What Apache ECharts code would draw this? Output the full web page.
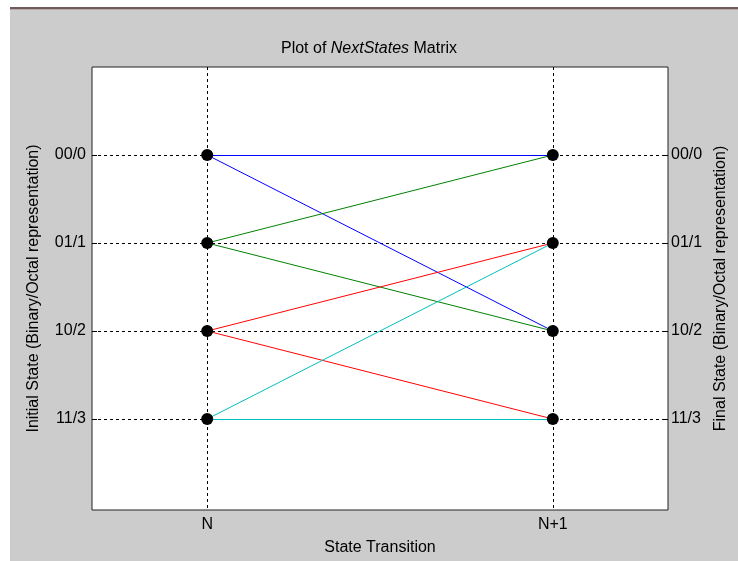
<!DOCTYPE html>
<html>
<head>
<meta charset="utf-8">
<script src="https://cdn.jsdelivr.net/npm/echarts@6/dist/echarts.min.js"></script>
<style>
  html, body { margin: 0; padding: 0; background: #fff; }
  #chart { width: 738px; height: 561px; }
</style>
</head>
<body>
<div id="chart"></div>
<script>
// State encodings (binary/octal) and the two transition steps
const stateLabels = ['00/0', '01/1', '10/2', '11/3'];
const stepLabels = ['N', 'N+1'];
// NextStates matrix: row = initial state, entries = reachable next states
const nextStates = [[0, 2], [0, 2], [1, 3], [1, 3]];
// One colour per initial state
const lineColors = ['#0000ff', '#008000', '#ff0000', '#00bfbf'];

const stepPos = [1, 2];
const statePos = stateLabels.map((_, i) => i);
const FONT = '"Liberation Sans", Arial, sans-serif';

// Same half-pixel snapping that zrender applies to axis split lines,
// so a horizontal transition exactly covers the dashed grid row below it.
function snap(p) {
  const d = Math.round(p * 2);
  return (d + 1) % 2 === 0 ? d / 2 : (d + 1) / 2;
}

// One segment per (initial state -> next state): [xFrom, yFrom, xTo, yTo, colourIndex]
const segments = [];
nextStates.forEach((targets, i) => {
  targets.forEach(j => segments.push([stepPos[0], i, stepPos[1], j, i]));
});

// Black node markers at every state of both steps
const nodes = [];
stepPos.forEach(x => statePos.forEach(y => nodes.push([x, y])));

const gridDash = { color: '#000', width: 1, type: [3, 3] };
const labelFont = { fontFamily: FONT, fontSize: 16, color: '#000' };

function xAxisCfg(pos, showLabels) {
  return {
    type: 'value',
    position: pos,
    min: 2 / 3,
    max: 7 / 3,
    axisLine: { show: false },
    axisTick: { show: true, inside: true, length: 5, customValues: stepPos, lineStyle: { color: '#000' } },
    axisLabel: Object.assign({
      show: showLabels,
      customValues: stepPos,
      margin: 7,
      formatter: v => stepLabels[stepPos.indexOf(v)] ?? ''
    }, labelFont),
    splitLine: { show: showLabels, lineStyle: gridDash }
  };
}

function yAxisCfg(pos, name, showGrid, margin) {
  return {
    type: 'value',
    position: pos,
    inverse: true,
    min: -1,
    max: 4.034,
    name: name,
    nameLocation: 'middle',
    nameRotate: 90,
    nameGap: pos === 'left' ? 50 : 44,
    nameTextStyle: { fontFamily: FONT, fontSize: 16, color: '#000' },
    axisLine: { show: false },
    axisTick: { show: true, inside: true, length: 5, customValues: statePos, lineStyle: { color: '#000' } },
    axisLabel: Object.assign({
      customValues: statePos,
      margin: margin,
      formatter: v => stateLabels[Math.round(v)] ?? ''
    }, labelFont),
    splitLine: { show: showGrid, lineStyle: gridDash }
  };
}

const chart = echarts.init(document.getElementById('chart'), null, { renderer: 'canvas' });
chart.setOption({
  backgroundColor: '#ffffff',
  animation: false,
  graphic: [
    { type: 'rect', shape: { x: 10, y: 8, width: 728, height: 553 }, style: { fill: '#cccccc' }, z: -10, silent: true },
    { type: 'rect', shape: { x: 10, y: 7, width: 728, height: 2 }, style: { fill: '#6e5c5c' }, z: -9, silent: true },
    { type: 'rect', shape: { x: 10, y: 9, width: 728, height: 1 }, style: { fill: '#b8a8a8' }, z: -9, silent: true }
  ],
  title: {
    text: '{a|Plot of }{b|NextStates}{a| Matrix}',
    left: 'center',
    top: 36,
    textStyle: {
      rich: {
        a: { fontFamily: FONT, fontSize: 16, color: '#000', fontWeight: 'normal' },
        b: { fontFamily: FONT, fontSize: 16, color: '#000', fontWeight: 'normal', fontStyle: 'italic' }
      }
    }
  },
  grid: {
    left: 92, top: 67, width: 576, height: 443,
    outerBoundsMode: 'none',
    containLabel: false,
    show: true,
    backgroundColor: '#ffffff',
    borderColor: '#222',
    borderWidth: 1
  },
  xAxis: [
    Object.assign(xAxisCfg('bottom', true), {
      name: 'State Transition',
      nameLocation: 'middle',
      nameGap: 30,
      nameTextStyle: { fontFamily: FONT, fontSize: 16, color: '#000' }
    }),
    xAxisCfg('top', false)
  ],
  yAxis: [
    yAxisCfg('left', 'Initial State (Binary/Octal representation)', true, 6),
    yAxisCfg('right', 'Final State (Binary/Octal representation)', false, 3)
  ],
  series: [
    {
      type: 'custom',
      data: segments,
      encode: { x: [0, 2], y: [1, 3] },
      silent: true,
      clip: false,
      zlevel: 1,
      z: 3,
      renderItem: function (params, api) {
        const a = api.coord([api.value(0), api.value(1)]);
        const b = api.coord([api.value(2), api.value(3)]);
        if (Math.round(a[1] * 2) === Math.round(b[1] * 2)) {
          a[1] = b[1] = snap(a[1]);
        }
        return {
          type: 'line',
          shape: { x1: a[0], y1: a[1], x2: b[0], y2: b[1] },
          style: { stroke: lineColors[api.value(4)], lineWidth: 1, fill: null }
        };
      }
    },
    {
      type: 'scatter',
      data: nodes,
      symbol: 'circle',
      symbolSize: 12,
      itemStyle: { color: '#000', opacity: 1 },
      silent: true,
      zlevel: 1,
      z: 5
    }
  ]
});
</script>
</body>
</html>
